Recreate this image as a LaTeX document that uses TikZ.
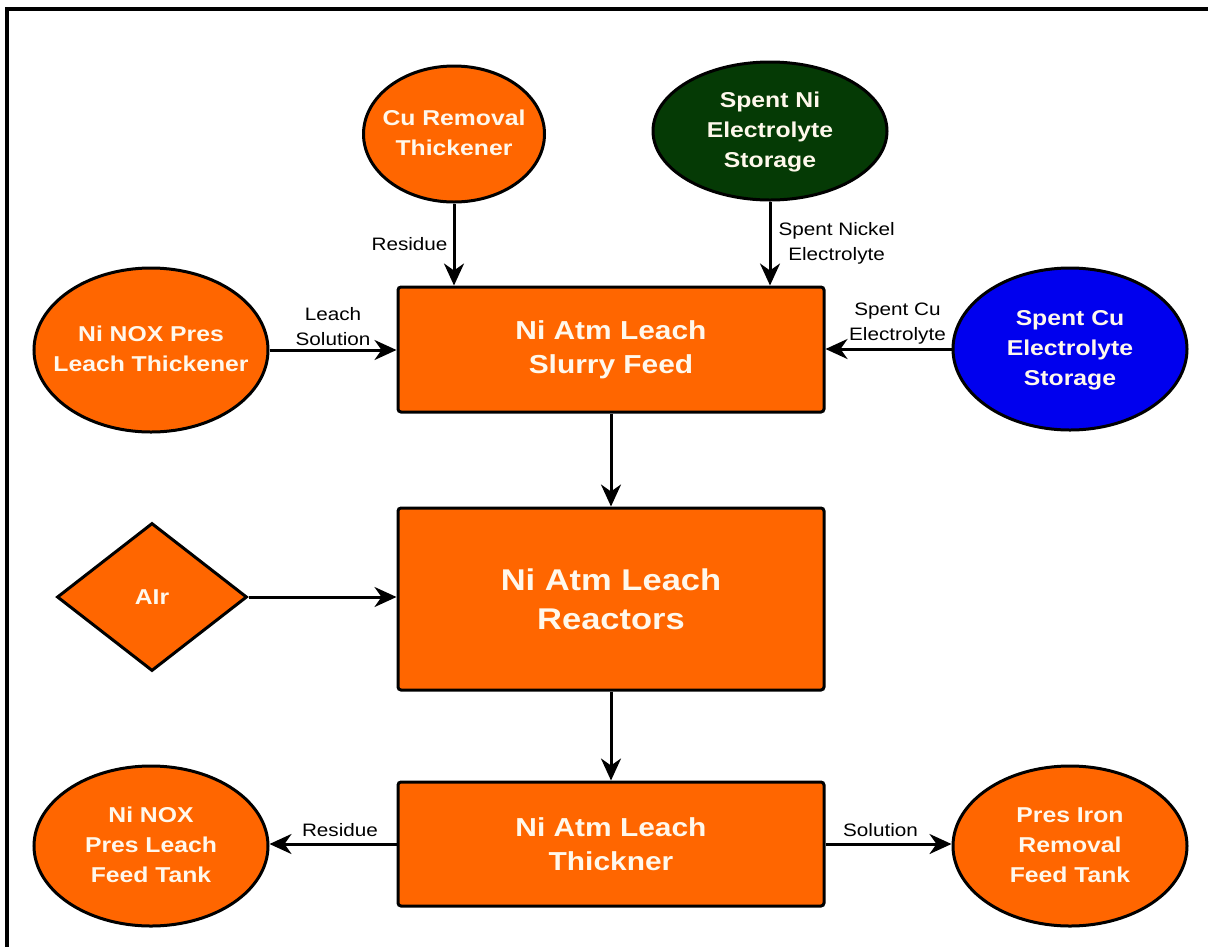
\documentclass[tikz,border=0pt]{standalone}
\usepackage{fontspec}
\setmainfont{Liberation Sans}[FakeStretch=1.15]
\usetikzlibrary{shapes.geometric,arrows.meta}
\definecolor{orng}{HTML}{FF6600}
\definecolor{dgreen}{HTML}{053A05}
\definecolor{blu}{HTML}{0000EE}
\definecolor{txt}{HTML}{FFF8EC}
\newcommand{\nodetxt}[1]{\makebox[0pt]{\begin{tabular}{@{}c@{}}#1\end{tabular}}}
\begin{document}
\begin{tikzpicture}[x=1pt,y=-1pt,
  box/.style={draw=black, line width=3pt, fill=orng, rounded corners=3pt, text=txt,
    font=\bfseries\fontsize{26}{34}\selectfont, align=center, minimum width=426pt, inner sep=0pt},
  ell/.style={ellipse, draw=black, line width=3pt, text=txt,
    font=\bfseries\fontsize{21.5}{30}\selectfont, inner sep=0pt},
  lbl/.style={font=\fontsize{18}{25}\selectfont, align=center, inner sep=2pt},
  arr/.style={-{Stealth[length=22pt,width=20pt,inset=7pt]}, line width=3pt}]
\clip (0,0) rectangle (1208,946);
\fill[white] (0,0) rectangle (1208,946);
\draw[line width=3.5pt] (7,9) rectangle (1240,980);

\node[box, minimum height=125pt] (feed) at (611,349.5) {Ni Atm Leach\\Slurry Feed};
\node[box, minimum height=182pt, font=\bfseries\fontsize{30}{39}\selectfont] (reac) at (611,599) {Ni Atm Leach\\Reactors};
\node[box, minimum height=124pt] (thick) at (611,844) {Ni Atm Leach\\Thickner};

\node[ell, fill=orng, minimum width=181pt, minimum height=136pt] (cu) at (454,134) {\nodetxt{Cu Removal\\Thickener}};
\node[ell, fill=dgreen, minimum width=234pt, minimum height=138pt] (sni) at (770,131) {\nodetxt{Spent Ni\\Electrolyte\\Storage}};
\node[ell, fill=orng, minimum width=234pt, minimum height=164pt] (nox) at (151,350) {\nodetxt{Ni NOX Pres\\Leach Thickener}};
\node[ell, fill=blu, minimum width=234pt, minimum height=162pt] (scu) at (1070,349) {\nodetxt{Spent Cu\\Electrolyte\\Storage}};
\node[diamond, draw=black, line width=3pt, fill=orng, text=txt, font=\bfseries\fontsize{21.5}{30}\selectfont,
  minimum width=190pt, minimum height=148pt, inner sep=0pt] (air) at (152,597) {AIr};
\node[ell, fill=orng, minimum width=234pt, minimum height=160pt] (nfeed) at (151,846) {\nodetxt{Ni NOX\\Pres Leach\\Feed Tank}};
\node[ell, fill=orng, minimum width=234pt, minimum height=160pt] (iron) at (1070,846) {\nodetxt{Pres Iron\\Removal\\Feed Tank}};

\draw[arr] (cu) -- (cu |- feed.north) node[lbl, midway, left=3pt] {Residue};
\draw[arr] (sni) -- (sni |- feed.north) node[lbl, midway, right=5pt] {Spent Nickel\\Electrolyte};
\draw[arr] (nox.east) -- (nox.east -| feed.west) node[lbl, midway, above=1pt] {Leach\\Solution};
\draw[arr] (scu.west) -- (scu.west -| feed.east) node[lbl, midway, above=1pt, xshift=9pt] {Spent Cu\\Electrolyte};
\draw[arr] (feed) -- (reac);
\draw[arr] (air.east) -- (air.east -| reac.west);
\draw[arr] (reac) -- (thick);
\draw[arr] (thick.west) -- (thick.west -| nfeed.east) node[lbl, midway, above=4pt, xshift=7pt] {Residue};
\draw[arr] (thick.east) -- (thick.east -| iron.west) node[lbl, midway, above=4pt, xshift=-8pt] {Solution};
\end{tikzpicture}
\end{document}
